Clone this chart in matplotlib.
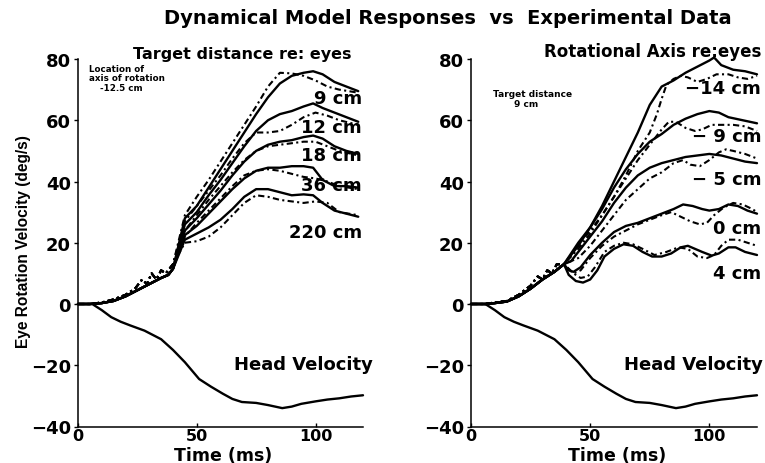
import numpy as np
import matplotlib
matplotlib.use("Agg")
import matplotlib.pyplot as plt

plt.rcParams['font.family'] = ['DejaVu Sans']
plt.rcParams['font.weight'] = 'bold'

# ---------------- data ----------------
# Head velocity (same in both panels)
T_HEAD = [0, 6, 10, 14, 18, 22, 28, 35, 40, 45, 51, 56, 61, 65, 69, 75, 80, 86, 90, 94, 100, 105, 110, 115, 120]
V_HEAD = [0, 0, -2, -4.3, -5.8, -7, -8.7, -11.5, -15, -19, -24.5, -27, -29.3, -31, -32, -32.3, -33, -34, -33.5,
          -32.6, -31.8, -31.2, -30.8, -30.2, -29.8]

# Left panel: target distance re: eyes
T_PRE_L_MODEL = [0, 5, 10, 15, 20, 25, 30, 35, 38, 40]
V_PRE_L_MODEL = [0, 0, 0.3, 1, 2.5, 4.5, 6.5, 8.5, 9.5, 11.5]
T_PRE_L_EXP = [0, 5, 10, 15, 20, 24, 27, 29, 31, 33, 35, 37, 40]
V_PRE_L_EXP = [0, 0, 0.5, 1.5, 3, 5, 8, 6.5, 10, 8, 11, 10, 13]

T_L_MODEL = [45, 50, 55, 60, 65, 70, 75, 80, 85, 90, 95, 99, 103, 108, 113, 118]
L_MODEL_9 = [28, 32, 38, 44, 50, 56, 62, 67.5, 72, 74.5, 75.5, 76, 75, 72.5, 71, 69.5]
L_MODEL_12 = [26, 30, 35.5, 40.5, 46, 51.5, 56.5, 60, 62, 63, 64.5, 65.5, 64, 62.5, 61, 59.5]
L_MODEL_18 = [24, 28, 32.5, 37, 42, 46.5, 50, 52, 53, 53.5, 54.5, 55, 54, 51.5, 50, 49]
L_MODEL_36 = [22.5, 25.5, 29.5, 33.5, 37.5, 41, 43.5, 44.5, 44.5, 45, 45, 44.5, 40.5, 38.5, 38.5, 38]
L_MODEL_220 = [21, 23, 25, 27.5, 31, 35, 37.5, 37.5, 36.5, 35.5, 35.8, 35.5, 33, 30.5, 29.5, 28.5]

T_L_EXP = [45, 50, 55, 60, 65, 70, 75, 80, 85, 90, 95, 100, 105, 110, 118]
L_EXP_9 = [29, 35, 40.5, 46.5, 52.5, 58.5, 64.5, 71, 75.5, 75.3, 74.5, 73, 71, 70, 69]
L_EXP_12 = [27, 32, 37, 42, 47.5, 52.5, 56, 56, 56.5, 58.5, 61, 62.5, 61.5, 60, 58.5]
L_EXP_18 = [24, 29, 34, 38.5, 43, 47, 50, 51.5, 52, 52.5, 53, 53, 51.5, 50, 48.5]
L_EXP_36 = [22, 26.5, 30.5, 34.5, 38.5, 42, 43.5, 44, 43.5, 42.5, 41.5, 41, 40, 38.5, 37.5]
L_EXP_220 = [20, 20.5, 22, 25, 29, 33, 35.5, 35, 34, 33.5, 33, 33.5, 33, 30, 29]

L_LABELS = ["9 cm", "12 cm", "18 cm", "36 cm", "220 cm"]
L_LABEL_Y = [67.3, 57.7, 48.7, 38.7, 23.4]

# Right panel: rotational axis re: eyes
T_PRE_R_MODEL = [0, 6, 10, 15, 20, 25, 30, 35, 39]
V_PRE_R_MODEL = [0, 0, 0.3, 0.8, 2.5, 5, 8, 10.5, 13]
T_PRE_R_EXP = [0, 6, 10, 15, 20, 25, 28, 30, 32, 34, 36, 39]
V_PRE_R_EXP = [0, 0, 0.5, 1, 3, 6, 9, 8, 11, 10, 13, 13]

T_R_MODEL_M14 = [45, 50, 55, 60, 65, 70, 75, 80, 85, 90, 95, 100, 102, 105, 110, 115, 120]
R_MODEL_M14 = [19, 25, 32, 40, 48, 56, 65, 71, 73, 75.5, 77.5, 79.5, 80.5, 78, 76.5, 76, 75]
T_R_MODEL_M9 = [45, 50, 55, 60, 65, 70, 75, 80, 85, 90, 95, 100, 104, 108, 114, 120]
R_MODEL_M9 = [20, 25, 31, 38, 44, 49, 53, 55.5, 58.5, 60.5, 62, 63, 62.5, 61, 60, 59]
T_R_MODEL_M5 = [42, 45, 50, 55, 60, 65, 70, 75, 80, 85, 90, 95, 100, 105, 110, 115, 120]
R_MODEL_M5 = [14, 17, 22, 27, 33, 38, 42, 44.5, 46, 47, 48, 48.5, 49, 48.5, 47.5, 46.5, 46]
T_R_MODEL_0 = [41, 43, 46, 50, 55, 60, 65, 70, 75, 80, 85, 89, 93, 97, 100, 104, 108, 112, 116, 120]
R_MODEL_0 = [11, 10.5, 12, 16, 20, 23.5, 25.5, 26.5, 28, 29.5, 31, 32.5, 32, 31, 30.5, 31, 32.5, 32, 30.5, 29.5]
T_R_MODEL_4 = [41, 44, 47, 50, 53, 56, 60, 64, 68, 72, 76, 80, 84, 88, 91, 94, 97, 101, 104, 108, 111, 115, 120]
R_MODEL_4 = [9.5, 7.5, 7, 8, 11, 15.5, 18, 19.5, 19, 17, 15.5, 15.5, 16.5, 18.5, 19, 18, 17, 15.8, 16.5, 18.5,
             18.5, 17, 16]

T_R_EXP_M14 = [45, 50, 55, 60, 65, 70, 75, 78, 80, 82, 85, 88, 91, 95, 99, 103, 108, 112, 116, 120]
R_EXP_M14 = [18, 23, 29, 35, 42, 50, 56, 62, 67, 71.5, 73.5, 74.5, 74, 72.5, 73.5, 75, 75, 74, 73.5, 74.5]
T_R_EXP_M9 = [45, 50, 55, 60, 65, 70, 75, 80, 83, 86, 90, 94, 97, 101, 105, 110, 115, 120]
R_EXP_M9 = [19, 24, 29, 35, 41, 47, 52, 57, 59.5, 59.5, 57.5, 56.5, 57, 58.5, 58.5, 58.5, 58, 56.5]
T_R_EXP_M5 = [45, 50, 55, 60, 65, 70, 75, 80, 85, 89, 92, 96, 100, 104, 107, 110, 115, 120]
R_EXP_M5 = [15, 19, 24, 29, 34, 37.5, 41, 43, 46, 47, 45.5, 45, 47, 49.5, 50.5, 50, 49, 47.5]
T_R_EXP_0 = [43, 46, 50, 55, 60, 65, 70, 75, 80, 84, 88, 92, 96, 99, 102, 106, 110, 114, 118, 120]
R_EXP_0 = [10, 11, 15, 19, 22, 24, 26, 27.5, 29, 30, 28.5, 27, 26, 26.5, 29, 31.5, 33, 32.5, 31, 30]
T_R_EXP_4 = [43, 46, 49, 52, 56, 60, 64, 68, 72, 77, 82, 87, 91, 95, 99, 102, 105, 108, 112, 116, 120]
R_EXP_4 = [10, 8.5, 9, 12, 17, 19, 20, 19.5, 18, 16, 17, 18.5, 18, 15.5, 15, 16, 19, 21, 21, 20, 19]

R_LABELS = ["\u221214 cm", "\u2212 9 cm", "\u2212 5 cm", "0 cm", "4 cm"]
R_LABEL_Y = [70.4, 54.7, 40.8, 24.8, 10.1]

X_TICKS = [0, 50, 100]
Y_TICKS = [-40, -20, 0, 20, 40, 60, 80]

# ---------------- drawing ----------------
W, H = 765, 464
AX_TOP, AX_BOT = 60.0, 427.5
fig = plt.figure(figsize=(W / 100, H / 100), dpi=100)
fig.patch.set_facecolor('white')

ax_l = fig.add_axes([78 / W, 1 - AX_BOT / H, 285 / W, (AX_BOT - AX_TOP) / H])
ax_r = fig.add_axes([471 / W, 1 - AX_BOT / H, 286 / W, (AX_BOT - AX_TOP) / H])

DASH = (0, (3.0, 1.6, 1.0, 1.6))
MODEL_KW = dict(color='black', lw=1.7, solid_capstyle='round', solid_joinstyle='round', clip_on=False)
EXP_KW = dict(color='black', lw=1.5, linestyle=DASH, clip_on=False)
AX_H = AX_BOT - AX_TOP


def style_axes(ax):
    ax.set_xlim(0, 120)
    ax.set_ylim(-40, 80)
    for s in ['top', 'right']:
        ax.spines[s].set_visible(False)
    for s in ['left', 'bottom']:
        ax.spines[s].set_linewidth(1.1)
    ax.set_xticks(X_TICKS)
    ax.set_yticks(Y_TICKS)
    ax.tick_params(axis='y', direction='out', length=3, width=1, labelsize=13, pad=2)
    ax.tick_params(axis='x', direction='in', length=3, width=1, labelsize=11.5, pad=1)
    for lab in ax.get_xticklabels() + ax.get_yticklabels():
        lab.set_fontweight('bold')
    ax.set_xlabel('Time (ms)', fontsize=12.5, fontweight='bold')
    ax.xaxis.label.set_va('baseline')
    ax.xaxis.set_label_coords(0.51, -(461 - AX_BOT) / AX_H)
    ax.plot(T_HEAD, V_HEAD, **MODEL_KW)


# Left
style_axes(ax_l)
for mod, exp in [(L_MODEL_9, L_EXP_9), (L_MODEL_12, L_EXP_12), (L_MODEL_18, L_EXP_18),
                 (L_MODEL_36, L_EXP_36), (L_MODEL_220, L_EXP_220)]:
    ax_l.plot(T_PRE_L_MODEL + T_L_MODEL, V_PRE_L_MODEL + mod, **MODEL_KW)
    ax_l.plot(T_PRE_L_EXP + T_L_EXP, V_PRE_L_EXP + exp, **EXP_KW)
for lab, y in zip(L_LABELS, L_LABEL_Y):
    ax_l.text(119.6, y, lab, ha='right', va='center', fontsize=13, fontweight='bold', clip_on=False)
ax_l.text(124, -19.5, 'Head Velocity', ha='right', va='center', fontsize=13, fontweight='bold', clip_on=False)
ax_l.text(4.6, 76.9, 'Location of', ha='left', va='center', fontsize=6.3, fontweight='bold')
ax_l.text(4.6, 73.8, 'axis of rotation', ha='left', va='center', fontsize=6.3, fontweight='bold')
ax_l.text(9.3, 70.7, '-12.5 cm', ha='left', va='center', fontsize=6.3, fontweight='bold')
ax_l.set_ylabel('Eye Rotation Velocity (deg/s)', fontsize=11.2, fontweight='bold',
                family=['Liberation Sans', 'DejaVu Sans'])
ax_l.yaxis.label.set_va('center')
ax_l.yaxis.set_label_coords((24 - 78) / 285, (AX_BOT - 242) / AX_H)

# Right
style_axes(ax_r)
for tm, mod, te, exp in [(T_R_MODEL_M14, R_MODEL_M14, T_R_EXP_M14, R_EXP_M14),
                         (T_R_MODEL_M9, R_MODEL_M9, T_R_EXP_M9, R_EXP_M9),
                         (T_R_MODEL_M5, R_MODEL_M5, T_R_EXP_M5, R_EXP_M5),
                         (T_R_MODEL_0, R_MODEL_0, T_R_EXP_0, R_EXP_0),
                         (T_R_MODEL_4, R_MODEL_4, T_R_EXP_4, R_EXP_4)]:
    ax_r.plot(T_PRE_R_MODEL + tm, V_PRE_R_MODEL + mod, **MODEL_KW)
    ax_r.plot(T_PRE_R_EXP + te, V_PRE_R_EXP + exp, **EXP_KW)
for lab, y in zip(R_LABELS, R_LABEL_Y):
    ax_r.text(121.7, y, lab, ha='right', va='center', fontsize=13, fontweight='bold', clip_on=False)
ax_r.text(122.5, -19.5, 'Head Velocity', ha='right', va='center', fontsize=13, fontweight='bold', clip_on=False)
ax_r.text(25.8, 68.8, 'Target distance', ha='center', va='center', fontsize=6.5, fontweight='bold')
ax_r.text(23.0, 65.6, '9 cm', ha='center', va='center', fontsize=6.5, fontweight='bold')

# Titles
fig.text(448 / W, 1 - 23.5 / H, 'Dynamical Model Responses  vs  Experimental Data', ha='center',
         va='baseline', fontsize=14, fontweight='bold')
fig.text(242.5 / W, 1 - 59 / H, 'Target distance re: eyes', ha='center', va='baseline', fontsize=11.5,
         fontweight='bold')
fig.text(652.5 / W, 1 - 57 / H, 'Rotational Axis re:eyes', ha='center', va='baseline', fontsize=12,
         fontweight='bold')

fig.savefig('out.png', dpi=100, facecolor='white')
